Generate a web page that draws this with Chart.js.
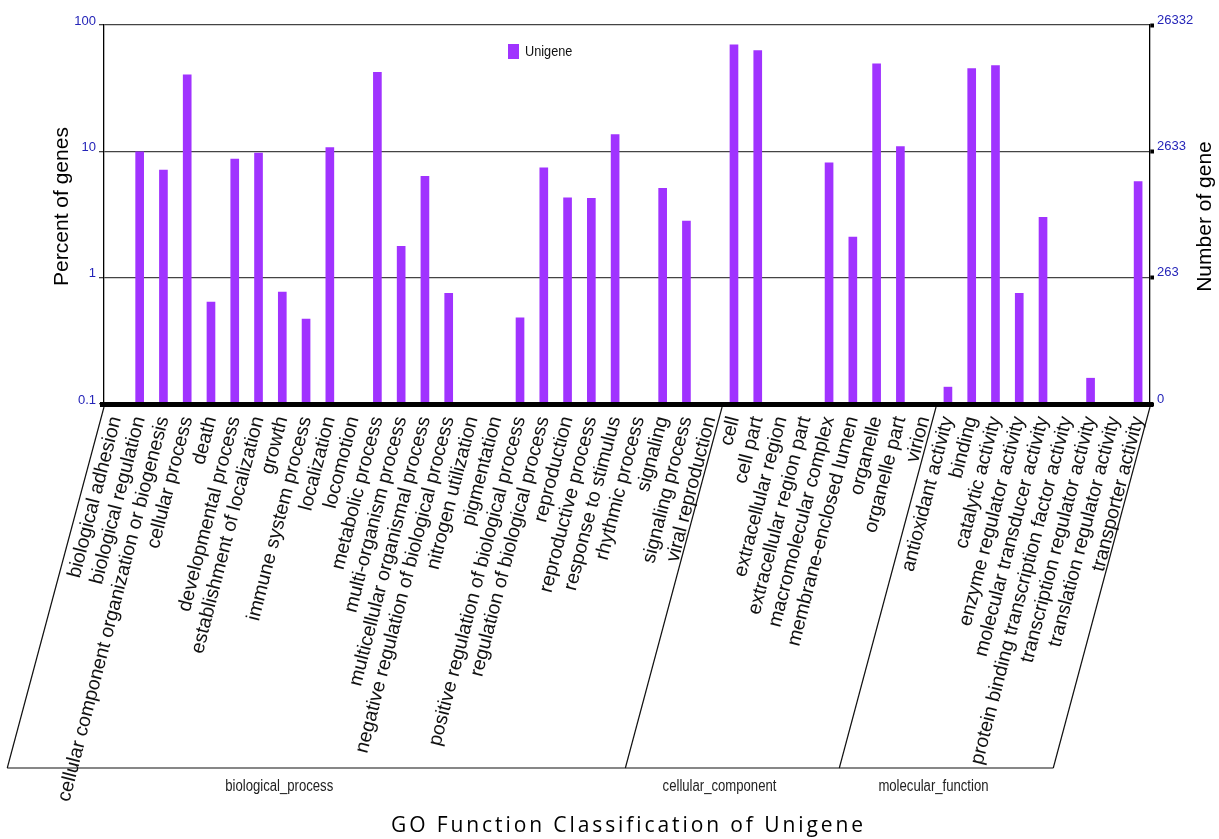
<!DOCTYPE html>
<html>
<head>
<meta charset="utf-8">
<title>GO Function Classification of Unigene</title>
<script src="https://cdn.jsdelivr.net/npm/chart.js@4.4.1/dist/chart.umd.min.js"></script>
<style>
  html, body { margin: 0; padding: 0; background: #fff; }
  #wrap { width: 1219px; height: 839px; }
</style>
</head>
<body>
<div id="wrap"><canvas id="goChart" width="1219" height="839"></canvas></div>
<script>
'use strict';

// GO terms, in the order they sit on the x axis
const categories = [
  'biological adhesion', 'biological regulation', 'cellular component organization or biogenesis',
  'cellular process', 'death', 'developmental process', 'establishment of localization', 'growth',
  'immune system process', 'localization', 'locomotion', 'metabolic process', 'multi-organism process',
  'multicellular organismal process', 'negative regulation of biological process', 'nitrogen utilization',
  'pigmentation', 'positive regulation of biological process', 'regulation of biological process',
  'reproduction', 'reproductive process', 'response to stimulus', 'rhythmic process', 'signaling',
  'signaling process', 'viral reproduction',
  'cell', 'cell part', 'extracellular region', 'extracellular region part', 'macromolecular complex',
  'membrane-enclosed lumen', 'organelle', 'organelle part', 'virion',
  'antioxidant activity', 'binding', 'catalytic activity', 'enzyme regulator activity',
  'molecular transducer activity', 'protein binding transcription factor activity',
  'transcription regulator activity', 'translation regulator activity', 'transporter activity',
];

const groupNames = ['biological_process', 'cellular_component', 'molecular_function'];
const groupSizes = [26, 9, 9];

// percent of genes (null = below the 0.1 floor, no bar visible)
const percentValues = [
  null, 9.9, 7.1, 40.3, 0.64, 8.7, 9.7, 0.77, 0.47, 10.7, null, 42.3, 1.77,
  6.35, 0.75, null, null, 0.48, 7.4, 4.28, 4.24, 13.6, null, 5.1, 2.8, null,
  69.6, 62.7, null, null, 8.1, 2.1, 49.2, 10.9, null,
  0.136, 45.2, 47.7, 0.75, 3.0, null, 0.16, null, 5.76,
];

const seriesName = 'Unigene';
const percentTicks = [0.1, 1, 10, 100];
const percentTickLabels = ['0.1', '1', '10', '100'];
const geneTickLabels = ['0', '263', '2633', '26332'];

const leftTitle = 'Percent of genes';
const rightTitle = 'Number of gene';
const bottomTitle = 'GO Function Classification of Unigene';

const BAR_COLOR = '#a033ff';
const TICK_BLUE = '#2424b8';
const SANS = '"Liberation Sans", Arial, sans-serif';

const line = (ctx, x1, y1, x2, y2) => {
  ctx.beginPath();
  ctx.moveTo(x1, y1);
  ctx.lineTo(x2, y2);
  ctx.stroke();
};

// narrow-looking text: draw a larger font squeezed horizontally
const narrowText = (ctx, text, x, y, size, align) => {
  ctx.save();
  ctx.font = `${size}px ${SANS}`;
  ctx.textAlign = align;
  ctx.textBaseline = 'middle';
  ctx.translate(x, y);
  ctx.scale(0.82, 1);
  ctx.fillText(text, 0, 0);
  ctx.restore();
};

const decorPlugin = {
  id: 'goDecor',
  afterDatasetsDraw(chart) {
    const { ctx, chartArea: area } = chart;
    ctx.save();
    ctx.strokeStyle = '#000';
    ctx.lineWidth = 5;
    line(ctx, area.left - 4, area.bottom + 0.5, area.right + 3, area.bottom + 0.5);
    ctx.restore();
  },
  afterDraw(chart) {
    const { ctx, chartArea: area, scales } = chart;
    const xScale = scales.x;

    // group brackets (sheared boxes under the labels)
    const edges = [area.left];
    let idx = 0;
    groupSizes.forEach((size) => {
      idx += size;
      edges.push(idx >= categories.length
        ? area.right
        : (xScale.getPixelForTick(idx - 1) + xScale.getPixelForTick(idx)) / 2);
    });
    const topY = area.bottom + 3;
    const baseY = 768;
    const slant = (baseY - topY) / Math.tan(75 * Math.PI / 180);

    ctx.save();
    ctx.strokeStyle = '#111';
    ctx.lineWidth = 1.2;
    edges.forEach((e) => line(ctx, e, topY, e - slant, baseY));
    line(ctx, edges[0] - slant, baseY, edges[edges.length - 1] - slant, baseY);

    ctx.fillStyle = '#222';
    groupNames.forEach((name, i) => {
      const l = edges[i] - slant;
      const r = edges[i + 1] - slant;
      narrowText(ctx, name, l + (r - l) * 0.44, 787, 16, 'center');
    });

    // axis titles
    ctx.fillStyle = '#000';
    ctx.font = `21px ${SANS}`;
    ctx.textAlign = 'center';
    ctx.textBaseline = 'middle';
    ctx.save();
    ctx.translate(62, (area.top + area.bottom) / 2 - 8);
    ctx.rotate(-Math.PI / 2);
    ctx.fillText(leftTitle, 0, 0);
    ctx.restore();

    ctx.save();
    ctx.translate(1205, (area.top + area.bottom) / 2 + 2);
    ctx.rotate(-Math.PI / 2);
    ctx.fillText(rightTitle, 0, 0);
    ctx.restore();

    // bottom title, spread to the reference width
    ctx.font = '21px "Open Sans", "DejaVu Sans", sans-serif';
    ctx.textAlign = 'left';
    const chars = bottomTitle.split('');
    const widths = chars.map((c) => ctx.measureText(c).width);
    const raw = widths.reduce((s, w) => s + w, 0);
    const target = 472;
    const gap = Math.max(0, (target - raw) / (chars.length - 1));
    let cx = (area.left + area.right) / 2 - (raw + gap * (chars.length - 1)) / 2;
    chars.forEach((c, i) => {
      ctx.fillText(c, cx, 826);
      cx += widths[i] + gap;
    });

    // legend
    ctx.fillStyle = BAR_COLOR;
    ctx.fillRect(508, 44, 11, 15);
    ctx.fillStyle = '#111';
    narrowText(ctx, seriesName, 525, 52, 15.5, 'left');
    ctx.restore();
  },
};

const tickList = (scale) => {
  scale.ticks = percentTicks.map((value) => ({ value }));
};

new Chart(document.getElementById('goChart'), {
  type: 'bar',
  data: {
    labels: categories,
    datasets: [{
      label: seriesName,
      data: percentValues,
      backgroundColor: BAR_COLOR,
      borderWidth: 0,
      barThickness: 8,
      yAxisID: 'y',
    }],
  },
  options: {
    responsive: false,
    animation: false,
    layout: { padding: { top: 25 } },
    plugins: {
      legend: { display: false },
      tooltip: { enabled: false },
    },
    scales: {
      x: {
        grid: { display: false, drawTicks: false },
        border: { display: false },
        ticks: {
          autoSkip: false,
          maxRotation: 75.5,
          minRotation: 75.5,
          padding: 10,
          color: '#111',
          font: { family: SANS, size: 19.5 },
        },
        afterFit: (scale) => { scale.height = 435; },
      },
      y: {
        type: 'logarithmic',
        position: 'left',
        min: 0.1,
        max: 100,
        afterBuildTicks: tickList,
        ticks: {
          callback: (value) => percentTickLabels[percentTicks.indexOf(value)] ?? '',
          color: TICK_BLUE,
          font: { family: SANS, size: 13 },
          padding: 3,
          labelOffset: -4,
        },
        grid: { color: '#444', lineWidth: 1.3, tickLength: 5 },
        border: { color: '#000', width: 1.3 },
        afterFit: (scale) => { scale.width = 104; },
      },
      y2: {
        type: 'logarithmic',
        position: 'right',
        min: 0.1,
        max: 100,
        afterBuildTicks: tickList,
        ticks: {
          callback: (value) => geneTickLabels[percentTicks.indexOf(value)] ?? '',
          color: TICK_BLUE,
          font: { family: SANS, size: 13 },
          padding: 3,
          labelOffset: -5,
        },
        grid: { drawOnChartArea: false, tickLength: 4, tickWidth: 4, tickColor: '#000' },
        border: { color: '#000', width: 1.3 },
        afterFit: (scale) => { scale.width = 69; },
      },
    },
  },
  plugins: [decorPlugin],
});
</script>
</body>
</html>
